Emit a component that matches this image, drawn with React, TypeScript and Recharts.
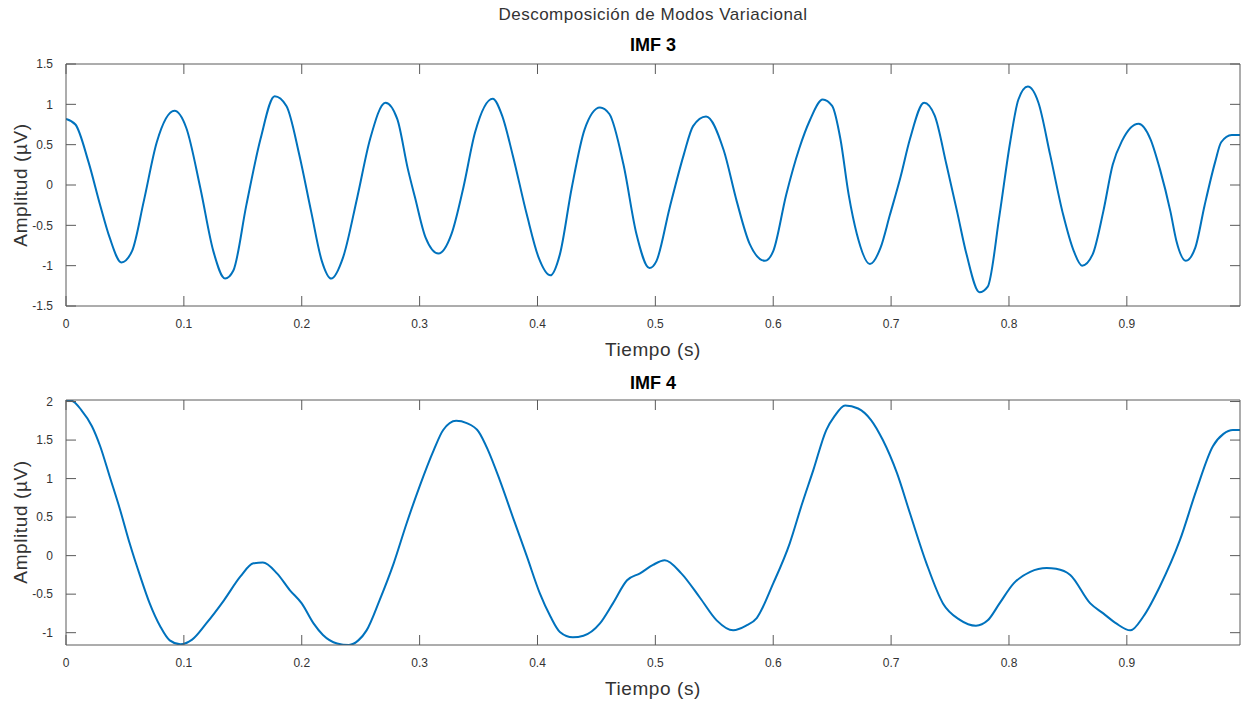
import React from "react";
import { LineChart, Line, XAxis, YAxis } from "recharts";

// IMF 3 – tiempo (s) y amplitud (µV)
const imf3Time = [
  0, 0.008, 0.019, 0.029, 0.037, 0.047, 0.056, 0.066, 0.077, 0.092, 0.102, 0.114, 0.125, 0.135, 0.142,
  0.153, 0.165, 0.177, 0.187, 0.198, 0.208, 0.217, 0.225, 0.235, 0.247, 0.258, 0.271, 0.281, 0.29, 0.296,
  0.305, 0.316, 0.327, 0.337, 0.347, 0.362, 0.37, 0.379, 0.391, 0.401, 0.411, 0.419, 0.429, 0.44, 0.453,
  0.461, 0.473, 0.484, 0.495, 0.501, 0.512, 0.524, 0.532, 0.543, 0.558, 0.569, 0.58, 0.593, 0.6, 0.611,
  0.622, 0.631, 0.642, 0.65, 0.657, 0.664, 0.671, 0.682, 0.691, 0.699, 0.708, 0.716, 0.728, 0.737, 0.747,
  0.756, 0.764, 0.775, 0.782, 0.792, 0.801, 0.808, 0.816, 0.825, 0.835, 0.846, 0.855, 0.862, 0.871, 0.88,
  0.888, 0.896, 0.91, 0.92, 0.928, 0.937, 0.942, 0.95, 0.958, 0.966, 0.975, 0.98, 0.989, 0.996,
];
const imf3Amp = [
  0.82, 0.75, 0.29, -0.25, -0.65, -0.96, -0.82, -0.2, 0.53, 0.92, 0.71, -0.04, -0.82, -1.16, -1.06,
  -0.25, 0.57, 1.1, 0.98, 0.37, -0.33, -0.94, -1.16, -0.9, -0.16, 0.57, 1.02, 0.82, 0.2, -0.15,
  -0.65, -0.85, -0.61, -0.04, 0.65, 1.07, 0.86, 0.37, -0.37, -0.9, -1.12, -0.86, -0.04, 0.69, 0.96,
  0.88, 0.25, -0.61, -1.03, -0.94, -0.29, 0.37, 0.73, 0.85, 0.43, -0.2, -0.73, -0.94, -0.82, -0.12,
  0.45, 0.8, 1.06, 0.98, 0.57, -0.12, -0.61, -0.98, -0.78, -0.37, 0.1, 0.57, 1.02, 0.86, 0.25,
  -0.33, -0.86, -1.33, -1.26, -0.37, 0.53, 1.06, 1.22, 1.02, 0.37, -0.37, -0.82, -1.0, -0.86, -0.33,
  0.25, 0.55, 0.76, 0.57, 0.2, -0.33, -0.69, -0.94, -0.78, -0.25, 0.29, 0.53, 0.62, 0.62,
];

// IMF 4
const imf4Time = [
  0, 0.005, 0.013, 0.022, 0.029, 0.037, 0.046, 0.054, 0.063, 0.071, 0.08, 0.088, 0.097, 0.107, 0.119,
  0.134, 0.148, 0.159, 0.167, 0.179, 0.19, 0.2, 0.21, 0.218, 0.23, 0.24, 0.248, 0.255, 0.266, 0.278,
  0.289, 0.3, 0.312, 0.32, 0.331, 0.34, 0.35, 0.358, 0.368, 0.38, 0.391, 0.402, 0.411, 0.419, 0.43,
  0.439, 0.453, 0.464, 0.476, 0.487, 0.498, 0.508, 0.522, 0.538, 0.552, 0.566, 0.577, 0.586, 0.6, 0.614,
  0.624, 0.634, 0.645, 0.652, 0.661, 0.672, 0.683, 0.693, 0.705, 0.716, 0.73, 0.744, 0.758, 0.772, 0.782,
  0.792, 0.804, 0.818, 0.832, 0.84, 0.852, 0.869, 0.88, 0.891, 0.903, 0.914, 0.928, 0.945, 0.959, 0.973,
  0.982, 0.99, 0.996,
];
const imf4Amp = [
  2.02, 2.01, 1.89, 1.68, 1.42, 1.03, 0.59, 0.16, -0.27, -0.62, -0.92, -1.1, -1.15, -1.09, -0.88,
  -0.58, -0.27, -0.1, -0.09, -0.23, -0.45, -0.62, -0.88, -1.03, -1.14, -1.16, -1.1, -0.97, -0.58, -0.1,
  0.42, 0.9, 1.37, 1.63, 1.75, 1.72, 1.61, 1.37, 0.98, 0.46, -0.01, -0.49, -0.79, -0.99, -1.06,
  -1.04, -0.88, -0.62, -0.32, -0.23, -0.12, -0.06, -0.23, -0.55, -0.84, -0.97, -0.91, -0.81, -0.36, 0.16,
  0.65, 1.11, 1.63, 1.81, 1.95, 1.91, 1.76, 1.5, 1.07, 0.55, -0.1, -0.62, -0.83, -0.91, -0.84,
  -0.62, -0.36, -0.21, -0.16, -0.17, -0.25, -0.62, -0.75, -0.88, -0.97, -0.79, -0.4, 0.2, 0.85, 1.42,
  1.58, 1.63, 1.63,
];

const xTicks = [0, 0.1, 0.2, 0.3, 0.4, 0.5, 0.6, 0.7, 0.8, 0.9];
const imf3YTicks = [-1.5, -1, -0.5, 0, 0.5, 1, 1.5];
const imf4YTicks = [-1, -0.5, 0, 0.5, 1, 1.5, 2];

const FONT = "'Liberation Sans', Arial, Helvetica, sans-serif";
const AXIS_COLOR = "#5a5a5a";
const TEXT_COLOR = "#333333";
const LINE_COLOR = "#0072BD";

const toRows = (t: number[], a: number[]) => t.map((time, i) => ({ time, amp: a[i] }));

interface PanelProps {
  data: { time: number; amp: number }[];
  yDomain: [number, number];
  yTicks: number[];
  top: number;
  height: number;
  marginTop: number;
  marginBottom: number;
}

const Panel: React.FC<PanelProps> = ({ data, yDomain, yTicks, top, height, marginTop, marginBottom }) => {
  const tick = { fontSize: 12, fill: TEXT_COLOR, fontFamily: FONT };
  const axisLine = { stroke: AXIS_COLOR, strokeWidth: 1 };
  return (
    <div style={{ position: "absolute", left: 0, top }}>
      <LineChart
        width={1245}
        height={height}
        data={data}
        margin={{ top: marginTop - 1, right: 4, left: 0, bottom: marginBottom }}
      >
        <XAxis
          dataKey="time"
          type="number"
          domain={[0, 0.996]}
          ticks={xTicks}
          interval={0}
          allowDataOverflow
          height={34}
          tickSize={-10}
          tickMargin={23}
          tick={tick}
          axisLine={axisLine}
          tickLine={axisLine}
        />
        {/* top and right axes only close the box */}
        <XAxis
          xAxisId="top"
          orientation="top"
          dataKey="time"
          type="number"
          domain={[0, 0.996]}
          ticks={xTicks}
          interval={0}
          allowDataOverflow
          height={1}
          tickSize={-10}
          tickMargin={0}
          tickFormatter={() => ""}
          axisLine={axisLine}
          tickLine={axisLine}
        />
        <YAxis
          type="number"
          domain={yDomain}
          ticks={yTicks}
          interval={0}
          allowDataOverflow
          width={66}
          tickSize={-10}
          tickMargin={23}
          tick={tick}
          axisLine={axisLine}
          tickLine={axisLine}
        />
        <YAxis
          yAxisId="right"
          orientation="right"
          type="number"
          domain={yDomain}
          ticks={yTicks}
          interval={0}
          allowDataOverflow
          width={1}
          tickSize={-10}
          tickMargin={0}
          tickFormatter={() => ""}
          axisLine={axisLine}
          tickLine={axisLine}
        />
        <Line
          xAxisId="top"
          yAxisId="right"
          type="monotone"
          dataKey="amp"
          stroke="none"
          dot={false}
          activeDot={false}
          isAnimationActive={false}
        />
        <Line
          type="monotone"
          dataKey="amp"
          stroke={LINE_COLOR}
          strokeWidth={2}
          dot={false}
          isAnimationActive={false}
        />
      </LineChart>
    </div>
  );
};

const textBase: React.CSSProperties = {
  position: "absolute",
  fontFamily: FONT,
  color: TEXT_COLOR,
  whiteSpace: "nowrap",
  lineHeight: 1,
};

const Centered: React.FC<{ x: number; y: number; style?: React.CSSProperties; children: React.ReactNode }> = ({
  x,
  y,
  style,
  children,
}) => (
  <div style={{ ...textBase, left: x, top: y, transform: "translate(-50%, -50%)", ...style }}>{children}</div>
);

const YLabel: React.FC<{ y: number }> = ({ y }) => (
  <div
    style={{
      ...textBase,
      left: 20,
      top: y,
      fontSize: 19,
      letterSpacing: 0.6,
      transform: "translate(-50%, -50%) rotate(-90deg)",
    }}
  >
    Amplitud (µV)
  </div>
);

export default function App() {
  return (
    <div
      style={{
        position: "absolute",
        left: 0,
        top: 0,
        width: 1245,
        height: 704,
        background: "#ffffff",
        overflow: "hidden",
      }}
    >
      <Panel
        data={toRows(imf3Time, imf3Amp)}
        yDomain={[-1.5, 1.5]}
        yTicks={imf3YTicks}
        top={0}
        height={340}
        marginTop={64}
        marginBottom={0}
      />
      <Panel
        data={toRows(imf4Time, imf4Amp)}
        yDomain={[-1.16, 2.02]}
        yTicks={imf4YTicks}
        top={340}
        height={364}
        marginTop={60}
        marginBottom={25}
      />

      <Centered x={653} y={14} style={{ fontSize: 17, letterSpacing: 0.5 }}>
        Descomposición de Modos Variacional
      </Centered>
      <Centered x={653} y={45} style={{ fontSize: 18, fontWeight: "bold", color: "#000" }}>
        IMF 3
      </Centered>
      <Centered x={653} y={383} style={{ fontSize: 18, fontWeight: "bold", color: "#000" }}>
        IMF 4
      </Centered>
      <Centered x={653} y={349} style={{ fontSize: 19, letterSpacing: 0.6 }}>
        Tiempo (s)
      </Centered>
      <Centered x={653} y={688} style={{ fontSize: 19, letterSpacing: 0.6 }}>
        Tiempo (s)
      </Centered>
      <YLabel y={185} />
      <YLabel y={522} />
    </div>
  );
}
